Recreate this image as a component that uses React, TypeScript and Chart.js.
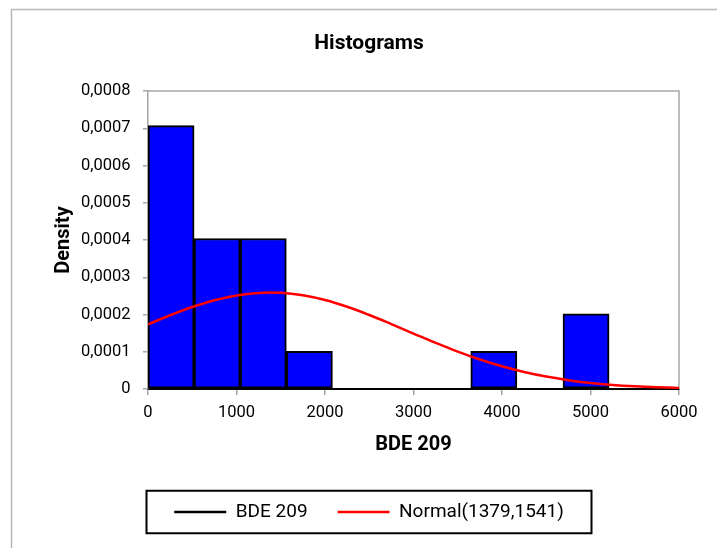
import { useEffect, useRef } from 'react';
import { Chart, registerables } from 'chart.js';

Chart.register(...registerables);

// Histogram bins of BDE 209 (edges) and their densities
const binEdges = [0, 521, 1042, 1563, 2084, 2605, 3126, 3647, 4168, 4689, 5210];
const binDensities = [0.000707, 0.000404, 0.000404, 0.000101, 0, 0, 0, 0.000101, 0, 0.000202];

// Fitted normal density curve, sampled every 250 units
const normalX = [
  0, 250, 500, 750, 1000, 1250, 1500, 1750, 2000, 2250, 2500, 2750, 3000,
  3250, 3500, 3750, 4000, 4250, 4500, 4750, 5000, 5250, 5500, 5750, 6000,
];
const normalY = [
  0.0001735, 0.000198, 0.00022, 0.0002382, 0.0002512, 0.000258, 0.0002581,
  0.0002515, 0.0002387, 0.0002207, 0.0001987, 0.0001743, 0.0001489, 0.0001239,
  0.0001004, 0.00007926, 0.00006095, 0.00004564, 0.0000333, 0.00002366,
  0.00001638, 0.00001104, 0.00000725, 0.00000463, 0.00000289,
];

const xTickLabels = ['0', '1000', '2000', '3000', '4000', '5000', '6000'];
const yTickLabels = ['0', '0,0001', '0,0002', '0,0003', '0,0004', '0,0005', '0,0006', '0,0007', '0,0008'];
const seriesNames = ['BDE 209', 'Normal(1379,1541)'];

const FONT = 'Roboto';
const AXIS_GRAY = '#a6a6a6';

// Thin outer frame of the chart object (left and top edges visible)
const outerFrame = {
  id: 'outerFrame',
  beforeDraw(chart: any) {
    const { ctx, width, height } = chart;
    ctx.save();
    ctx.strokeStyle = '#b8b8b8';
    ctx.lineWidth = 1.5;
    ctx.beginPath();
    ctx.moveTo(11.5, height);
    ctx.lineTo(11.5, 9.5);
    ctx.lineTo(width, 9.5);
    ctx.stroke();
    ctx.restore();
  },
};

// Gray top/right edges of the plot area
const plotFrame = {
  id: 'plotFrame',
  beforeDatasetsDraw(chart: any) {
    const { ctx, chartArea } = chart;
    ctx.save();
    ctx.strokeStyle = AXIS_GRAY;
    ctx.lineWidth = 1.5;
    ctx.beginPath();
    ctx.moveTo(chartArea.left, chartArea.top);
    ctx.lineTo(chartArea.right, chartArea.top);
    ctx.lineTo(chartArea.right, chartArea.bottom);
    ctx.stroke();
    ctx.restore();
  },
};

// Black box around the legend
const legendBox = {
  id: 'legendBox',
  afterDraw(chart: any) {
    const lg = chart.legend;
    if (!lg || !lg.legendHitBoxes || !lg.legendHitBoxes.length) return;
    const { ctx } = chart;
    const cx = (lg.left + lg.right) / 2;
    const hb = lg.legendHitBoxes[0];
    const cy = hb.top + hb.height / 2;
    const w = 445;
    const h = 42.5;
    ctx.save();
    ctx.strokeStyle = '#000';
    ctx.lineWidth = 2;
    ctx.strokeRect(cx - w / 2, cy - h / 2, w, h);
    ctx.restore();
  },
};

export default function App() {
  const canvasRef = useRef<HTMLCanvasElement | null>(null);

  useEffect(() => {
    if (!canvasRef.current) return;
    const bars = binDensities.map((d, i) => ({ x: (binEdges[i] + binEdges[i + 1]) / 2, y: d }));
    const curve = normalX.map((x, i) => ({ x, y: normalY[i] }));

    const chart = new Chart(canvasRef.current, {
      type: 'bar',
      data: {
        datasets: [
          {
            type: 'bar',
            label: seriesNames[0],
            data: bars,
            backgroundColor: '#0000ff',
            borderColor: '#000000',
            borderWidth: 2,
            borderSkipped: false,
            barPercentage: 1,
            categoryPercentage: 1,
            order: 2,
          },
          {
            type: 'line',
            label: seriesNames[1],
            data: curve,
            borderColor: '#ff0000',
            borderWidth: 2.5,
            pointRadius: 0,
            tension: 0.4,
            fill: false,
            order: 1,
          },
        ] as any,
      },
      options: {
        animation: false,
        responsive: true,
        maintainAspectRatio: false,
        layout: { padding: { left: 21, right: 0, top: 0, bottom: 16.5 } },
        plugins: {
          title: {
            display: true,
            text: 'Histograms',
            color: '#000',
            font: { family: FONT, size: 21, weight: 'bold' },
            padding: { top: 31.4, bottom: 34.4 },
          },
          legend: {
            position: 'bottom',
            labels: {
              font: { family: FONT, size: 19 },
              color: '#000',
              usePointStyle: true,
              pointStyle: 'line',
              pointStyleWidth: 52,
              padding: 30,
              generateLabels: () => [
                {
                  text: seriesNames[0],
                  fillStyle: '#000000',
                  strokeStyle: '#000000',
                  lineWidth: 2.5,
                  pointStyle: 'line',
                  hidden: false,
                  datasetIndex: 0,
                  fontColor: '#000',
                },
                {
                  text: seriesNames[1],
                  fillStyle: '#ff0000',
                  strokeStyle: '#ff0000',
                  lineWidth: 2.5,
                  pointStyle: 'line',
                  hidden: false,
                  datasetIndex: 1,
                  fontColor: '#000',
                },
              ],
            },
          },
          tooltip: { enabled: false },
        },
        scales: {
          x: {
            type: 'linear',
            min: 0,
            max: 6000,
            offset: false,
            grid: { offset: false, drawOnChartArea: false, color: AXIS_GRAY, tickLength: 6, lineWidth: 1.5 },
            border: { color: '#000', width: 2 },
            ticks: {
              stepSize: 1000,
              padding: 8,
              maxRotation: 0,
              autoSkip: false,
              color: '#000',
              font: { family: FONT, size: 16.5 },
              callback: (_v: any, i: number) => xTickLabels[i],
            },
            title: {
              display: true,
              text: 'BDE 209',
              color: '#000',
              font: { family: FONT, size: 20, weight: 'bold' },
              padding: { top: 0, bottom: 15.5 },
            },
            afterFit: (s: any) => {
              s.height = 83.5;
            },
          },
          y: {
            type: 'linear',
            min: 0,
            max: 0.0008,
            grid: { drawOnChartArea: false, color: AXIS_GRAY, tickLength: 5, lineWidth: 1.5 },
            border: { color: AXIS_GRAY, width: 1.5 },
            ticks: {
              stepSize: 0.0001,
              padding: 12.5,
              color: '#000',
              font: { family: FONT, size: 16.5 },
              callback: (_v: any, i: number) => yTickLabels[i],
            },
            title: {
              display: true,
              text: 'Density',
              color: '#000',
              font: { family: FONT, size: 20, weight: 'bold' },
              padding: { top: 31, bottom: 0 },
            },
            afterFit: (s: any) => {
              s.width = 127;
            },
          },
          yRight: {
            type: 'linear',
            axis: 'y',
            position: 'right',
            display: true,
            ticks: { display: false },
            grid: { display: false },
            border: { display: false },
            afterFit: (s: any) => {
              s.width = 38;
            },
          },
        },
      } as any,
      plugins: [outerFrame, plotFrame, legendBox],
    });

    return () => chart.destroy();
  }, []);

  return (
    <div style={{ position: 'absolute', left: 0, top: 0, width: 717, height: 548, background: '#fff' }}>
      <canvas ref={canvasRef} />
    </div>
  );
}
